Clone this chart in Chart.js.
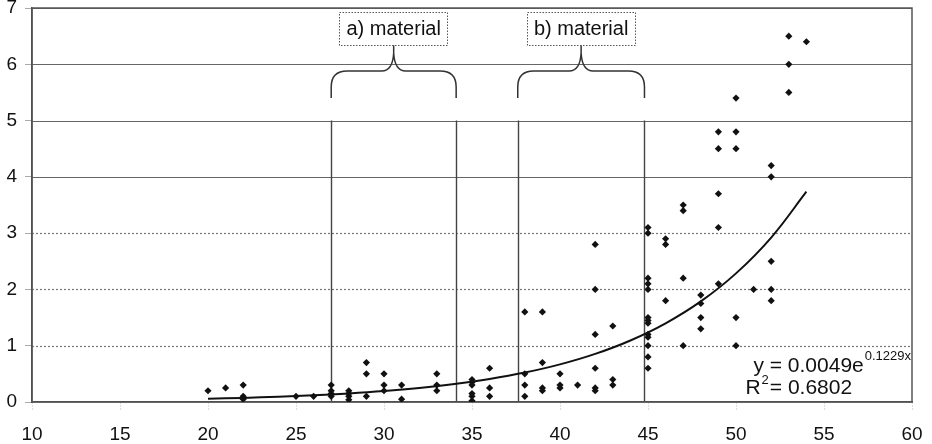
<!DOCTYPE html>
<html>
<head>
<meta charset="utf-8">
<script src="https://cdn.jsdelivr.net/npm/chart.js@4.4.1/dist/chart.umd.min.js"></script>
<style>
  html, body { margin: 0; padding: 0; background: #fff; }
  #wrap { width: 932px; height: 444px; position: relative; }
</style>
</head>
<body>
<div id="wrap"><canvas id="c" width="932" height="444"></canvas></div>
<script>
// ---- data ----
const pointX = [
  20, 21, 22, 22, 22, 25, 26,
  27, 27, 27, 27, 28, 28, 28, 28,
  29, 29, 29, 30, 30, 30, 31, 31,
  33, 33, 33, 35, 35, 35, 35, 35, 35,
  36, 36, 36, 38, 38, 38, 38,
  39, 39, 39, 39, 40, 40, 40, 41,
  42, 42, 42, 42, 42, 42, 43, 43, 43,
  45, 45, 45, 45, 45, 45, 45, 45, 45, 45, 45, 45, 45,
  46, 46, 46, 47, 47, 47, 47, 48, 48, 48, 48,
  49, 49, 49, 49, 49, 50, 50, 50, 50, 50, 51,
  52, 52, 52, 52, 52, 53, 53, 53, 54
];
const pointY = [
  0.2, 0.25, 0.3, 0.1, 0.05, 0.1, 0.1,
  0.3, 0.2, 0.15, 0.1, 0.2, 0.15, 0.1, 0.04,
  0.7, 0.5, 0.1, 0.5, 0.3, 0.2, 0.3, 0.05,
  0.5, 0.3, 0.2, 0.4, 0.35, 0.3, 0.15, 0.1, 0.02,
  0.6, 0.25, 0.1, 1.6, 0.5, 0.3, 0.1,
  1.6, 0.7, 0.25, 0.2, 0.5, 0.3, 0.25, 0.3,
  2.8, 2.0, 1.2, 0.6, 0.25, 0.2, 1.35, 0.4, 0.3,
  3.1, 3.0, 2.2, 2.1, 2.0, 1.5, 1.45, 1.4, 1.2, 1.15, 1.0, 0.8, 0.6,
  2.9, 2.8, 1.8, 3.5, 3.4, 2.2, 1.0, 1.9, 1.75, 1.5, 1.3,
  4.8, 4.5, 3.7, 3.1, 2.1, 5.4, 4.8, 4.5, 1.5, 1.0, 2.0,
  4.2, 4.0, 2.5, 2.0, 1.8, 6.5, 6.0, 5.5, 6.4
];
// fitted trend shown on the chart: y = 0.0049 e^(0.1229 x), R^2 = 0.6802
const trendA = 0.0049;
const trendB = 0.1229;
const trendR2 = '0.6802';
const trendX = [20, 22, 24, 26, 28, 30, 32, 34, 36, 38, 40, 42, 44, 46, 48, 50, 52, 54];
const xTicks = [10, 15, 20, 25, 30, 35, 40, 45, 50, 55, 60];
const yTicks = [0, 1, 2, 3, 4, 5, 6, 7];
const materialLabels = ['a) material', 'b) material'];
const materialFrom = [27, 37.6];
const materialTo = [34.1, 44.8];

// ---- build chart ----
const FONT = "'Liberation Sans', Arial, Helvetica, sans-serif";
const scatterData = pointX.map((x, i) => ({ x: x, y: pointY[i] }));
const trendData = trendX.map(x => ({ x: x, y: trendA * Math.exp(trendB * x) }));

const decor = {
  id: 'decor',
  beforeDatasetsDraw(chart) {
    const ctx = chart.ctx, a = chart.chartArea;
    const xs = chart.scales.x, ys = chart.scales.y;
    ctx.save();
    // horizontal grid lines
    yTicks.forEach(v => {
      if (v === 0) return;
      const py = Math.round(ys.getPixelForValue(v)) + 0.5;
      ctx.beginPath();
      ctx.lineWidth = 1.2;
      if (v <= 3) { ctx.setLineDash([2, 2]); ctx.strokeStyle = '#777'; }
      else { ctx.setLineDash([]); ctx.strokeStyle = '#666'; }
      ctx.moveTo(a.left, py); ctx.lineTo(a.right, py); ctx.stroke();
    });
    ctx.setLineDash([]);
    // vertical material boundary lines (0 .. 5)
    ctx.strokeStyle = '#444'; ctx.lineWidth = 1.4;
    const yb = ys.getPixelForValue(0), yt = ys.getPixelForValue(5);
    materialFrom.forEach((x0, i) => {
      [x0, materialTo[i]].forEach(v => {
        const px = Math.round(xs.getPixelForValue(v)) + 0.5;
        ctx.beginPath(); ctx.moveTo(px, yb); ctx.lineTo(px, yt); ctx.stroke();
      });
    });
    // plot frame
    ctx.strokeStyle = '#555'; ctx.lineWidth = 1.5;
    ctx.strokeRect(a.left, a.top, a.right - a.left, a.bottom - a.top);
    ctx.restore();
  },
  afterDatasetsDraw(chart) {
    const ctx = chart.ctx, a = chart.chartArea;
    const xs = chart.scales.x, ys = chart.scales.y;
    ctx.save();
    // braces + labelled boxes
    const yEnd = ys.getPixelForValue(5.4);
    const yBar = ys.getPixelForValue(5.88);
    const yBox = ys.getPixelForValue(6.34);
    const yBoxTop = ys.getPixelForValue(6.93);
    materialFrom.forEach((x0, i) => {
      const xL = xs.getPixelForValue(x0), xR = xs.getPixelForValue(materialTo[i]);
      const xm = (xL + xR) / 2;
      const r = 16, tipH = 18;
      ctx.strokeStyle = '#333'; ctx.lineWidth = 1.5; ctx.setLineDash([]);
      ctx.beginPath();
      ctx.moveTo(xL, yEnd);
      ctx.lineTo(xL, yBar + r);
      ctx.quadraticCurveTo(xL, yBar, xL + r, yBar);
      ctx.lineTo(xm - 12, yBar);
      ctx.quadraticCurveTo(xm - 1, yBar, xm, yBar - tipH);
      ctx.lineTo(xm, yBox);
      ctx.moveTo(xm, yBar - tipH);
      ctx.quadraticCurveTo(xm + 1, yBar, xm + 12, yBar);
      ctx.lineTo(xR - r, yBar);
      ctx.quadraticCurveTo(xR, yBar, xR, yBar + r);
      ctx.lineTo(xR, yEnd);
      ctx.stroke();
      // box
      ctx.font = '20px ' + FONT;
      const tw = ctx.measureText(materialLabels[i]).width;
      const bw = tw + 14;
      ctx.fillStyle = '#fff';
      ctx.fillRect(xm - bw / 2, yBoxTop, bw, yBox - yBoxTop);
      ctx.setLineDash([1.5, 1.5]); ctx.strokeStyle = '#555'; ctx.lineWidth = 1;
      ctx.strokeRect(Math.round(xm - bw / 2) + 0.5, Math.round(yBoxTop) + 0.5, Math.round(bw), Math.round(yBox - yBoxTop));
      ctx.setLineDash([]);
      ctx.fillStyle = '#111'; ctx.textAlign = 'center'; ctx.textBaseline = 'middle';
      ctx.fillText(materialLabels[i], xm, (yBox + yBoxTop) / 2 + 1);
    });
    // equation
    ctx.fillStyle = '#111'; ctx.textAlign = 'left'; ctx.textBaseline = 'alphabetic';
    const main = 'y = ' + trendA.toFixed(4) + 'e';
    const sup = trendB.toFixed(4) + 'x';
    ctx.font = '21px ' + FONT;
    const mw = ctx.measureText(main).width;
    ctx.font = '13px ' + FONT;
    const sw = ctx.measureText(sup).width;
    const x0 = a.right - 2 - sw - mw;
    const base1 = a.bottom - 30;
    ctx.font = '21px ' + FONT;
    ctx.fillText(main, x0, base1);
    ctx.font = '13px ' + FONT;
    ctx.fillText(sup, x0 + mw + 1, base1 - 12);
    const xr = x0 - 8, base2 = a.bottom - 8;
    ctx.font = '21px ' + FONT;
    ctx.fillText('R', xr, base2);
    const rw = ctx.measureText('R').width;
    ctx.font = '13px ' + FONT;
    ctx.fillText('2', xr + rw + 1, base2 - 10);
    const tw2 = ctx.measureText('2').width;
    ctx.font = '21px ' + FONT;
    ctx.fillText('= ' + trendR2, xr + rw + tw2 + 2, base2);
    ctx.restore();
  }
};

new Chart(document.getElementById('c'), {
  type: 'scatter',
  data: {
    datasets: [
      {
        label: 'trend',
        type: 'line',
        data: trendData,
        borderColor: '#111',
        borderWidth: 2,
        pointRadius: 0,
        tension: 0.4,
        fill: false,
        order: 1
      },
      {
        label: 'data',
        data: scatterData,
        pointStyle: 'rectRot',
        pointRadius: 3.6,
        backgroundColor: '#111',
        borderColor: '#111',
        borderWidth: 0,
        order: 2
      }
    ]
  },
  options: {
    responsive: false,
    animation: false,
    devicePixelRatio: 1,
    layout: { padding: { top: 8, right: 20, left: 0, bottom: 0 } },
    plugins: { legend: { display: false }, tooltip: { enabled: false } },
    scales: {
      x: {
        type: 'linear', min: 10, max: 60,
        afterBuildTicks: s => { s.ticks = xTicks.map(v => ({ value: v })); },
        afterFit: s => { s.height = 42; s.paddingLeft = 0; s.paddingRight = 0; },
        grid: { drawOnChartArea: false, drawTicks: true, tickLength: 8, tickColor: '#bbb', tickBorderDash: [1, 2] },
        border: { display: true, color: '#444', width: 1.5 },
        ticks: { color: '#111', padding: 13, font: { family: FONT, size: 19 }, maxRotation: 0, autoSkip: false }
      },
      y: {
        type: 'linear', min: 0, max: 7,
        afterBuildTicks: s => { s.ticks = yTicks.map(v => ({ value: v })); },
        afterFit: s => { s.width = 32; s.paddingTop = 0; s.paddingBottom = 0; },
        grid: { drawOnChartArea: false, drawTicks: true, tickLength: 7, tickColor: '#aaa' },
        border: { display: true, color: '#444', width: 1.5 },
        ticks: { color: '#111', padding: 8, font: { family: FONT, size: 19 } }
      }
    }
  },
  plugins: [decor]
});
</script>
</body>
</html>
